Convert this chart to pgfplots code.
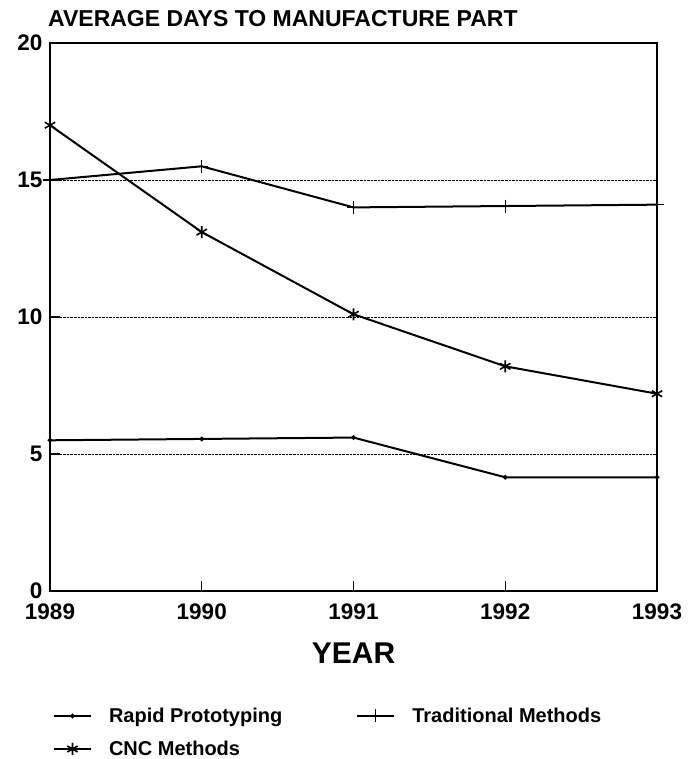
\documentclass[border=0pt]{standalone}
\usepackage{fontspec}
\setmainfont{Liberation Sans}
\usepackage{pgfplots}
\pgfplotsset{compat=1.18}
\begin{document}
\begin{tikzpicture}
\useasboundingbox (-50bp,-168bp) rectangle (638bp,591bp);
\begin{axis}[
  scale only axis, width=607bp, height=548bp,
  xmin=1989, xmax=1993, ymin=0, ymax=20,
  xtick={1989,1990,1991,1992,1993}, xticklabels={1989,1990,1991,1992,1993},
  ytick={0,5,10,15,20}, yticklabels={0,5,10,15,20},
  tick align=inside, major tick length=10bp, tick style={black, line width=1.2bp},
  xtick pos=bottom, ytick pos=left,
  ymajorgrids, grid style={black, densely dotted, line width=0.9bp},
  axis line style={line width=1.8bp},
  ticklabel style={font=\bfseries\fontsize{22.5bp}{22.5bp}\selectfont},
  xticklabel style={yshift=-9bp},
  yticklabel style={xshift=-4bp},
  title={AVERAGE DAYS TO MANUFACTURE PART},
  title style={at={(0,1)}, anchor=base west, inner sep=0pt, xshift=-2bp, yshift=11bp,
    font=\bfseries\fontsize{23bp}{23bp}\selectfont},
  xlabel={YEAR},
  xlabel style={at={(0.5,-0.1314)}, anchor=base, inner sep=0pt,
    font=\bfseries\fontsize{30bp}{30bp}\selectfont},
  clip=false,
  legend columns=2,
  legend style={draw=none, fill=none, at={(0.00494,-0.2135)}, anchor=north west,
    inner sep=0pt, outer sep=0pt,
    font=\bfseries\fontsize{20bp}{20bp}\selectfont,
    nodes={inner sep=0pt},
    cells={anchor=west},
    row sep=17bp,
    /tikz/every odd column/.append style={column sep=17bp},
    /tikz/every even column/.append style={column sep=74bp}},
  legend image code/.code={\draw[mark repeat=2,mark phase=2,#1] plot coordinates {(0bp,0bp)(18.5bp,0bp)(37bp,0bp)};},
  every axis plot/.append style={black, line width=2bp},
]
\addplot[mark=*, mark size=1.2bp] coordinates {(1989,5.5)(1990,5.55)(1991,5.6)(1992,4.15)(1993,4.15)};
\addlegendentry{Rapid Prototyping}
\addplot[mark=+, mark size=6.5bp, mark options={line width=1.3bp}] coordinates {(1989,15.0)(1990,15.5)(1991,14.0)(1992,14.05)(1993,14.1)};
\addlegendentry{Traditional Methods}
\addplot[mark=asterisk, mark size=6bp, mark options={line width=1.6bp}] coordinates {(1989,17.0)(1990,13.1)(1991,10.1)(1992,8.2)(1993,7.2)};
\addlegendentry{CNC Methods}
\end{axis}
\end{tikzpicture}
\end{document}
